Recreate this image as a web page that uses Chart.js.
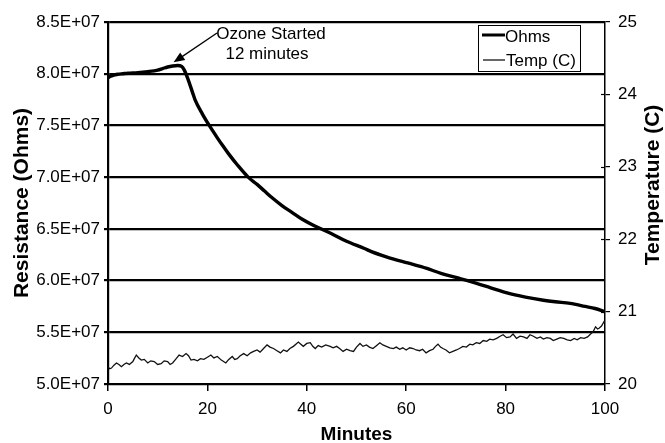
<!DOCTYPE html>
<html>
<head>
<meta charset="utf-8">
<script src="https://cdn.jsdelivr.net/npm/chart.js@4"></script>
<style>
  html, body { margin: 0; padding: 0; background: #fff; }
  canvas { display: block; }
</style>
</head>
<body>
<canvas id="c" width="665" height="443"></canvas>
<script>
// ---- Data ----
const ohmsMinutes = [0, 0.5, 1, 2, 3, 4, 6, 8, 10, 11, 12, 13, 14, 14.8, 15.3, 16, 17, 17.5, 19, 20.5, 22, 23, 24.2, 26, 28.2, 30, 31.5, 32.9, 35, 37, 39, 41.5, 44.9, 48, 51.6, 53, 56, 60.3, 64, 67, 70, 73, 77, 80.3, 84, 87.6, 90, 93, 96, 98, 100];
const ohmsValues = [7.96e7, 7.975e7, 7.985e7, 7.995e7, 8.0e7, 8.005e7, 8.01e7, 8.02e7, 8.035e7, 8.05e7, 8.065e7, 8.075e7, 8.08e7, 8.07e7, 8.04e7, 7.96e7, 7.82e7, 7.75e7, 7.61e7, 7.49e7, 7.38e7, 7.31e7, 7.23e7, 7.12e7, 7.0e7, 6.93e7, 6.865e7, 6.805e7, 6.725e7, 6.66e7, 6.595e7, 6.53e7, 6.455e7, 6.38e7, 6.31e7, 6.28e7, 6.23e7, 6.17e7, 6.12e7, 6.07e7, 6.03e7, 5.99e7, 5.93e7, 5.88e7, 5.84e7, 5.81e7, 5.795e7, 5.78e7, 5.75e7, 5.73e7, 5.70e7];

const tempMinutes = [0, 0.35, 0.7, 1.2, 1.7, 2.2, 2.7, 3.2, 3.7, 4.3, 5, 5.3, 5.7, 6.2, 6.7, 7.3, 8, 8.6, 9.3, 10, 10.7, 11.3, 12, 12.5, 13, 13.6, 14.3, 15, 15.7, 16.2, 16.7, 17.3, 18, 18.6, 19.3, 20, 20.7, 21.3, 22, 22.8, 23.7, 24.3, 25, 25.5, 26, 26.6, 27.3, 28, 28.7, 29.3, 30, 30.6, 31.3, 32, 32.6, 33.3, 34, 34.7, 35.3, 36, 36.6, 37.3, 37.8, 38.3, 38.8, 39.3, 40, 40.7, 41.2, 41.7, 42.3, 43, 43.8, 44.7, 45.3, 46, 46.6, 47.3, 48, 48.7, 49.4, 50, 50.7, 51.3, 52, 52.6, 53.3, 54, 54.7, 55.3, 56, 56.7, 57.4, 58, 58.7, 59.3, 60, 60.7, 61.4, 62, 62.7, 63.3, 64, 64.7, 65.4, 65.9, 66.4, 66.9, 67.4, 68, 68.7, 69.4, 70.1, 70.7, 71.4, 72.1, 72.8, 73.4, 74.1, 74.8, 75.5, 76.2, 76.8, 77.5, 78.2, 78.9, 79.5, 80.2, 80.9, 81.5, 82.2, 82.9, 83.6, 84.3, 84.9, 85.6, 86.3, 87, 87.6, 88.3, 89, 89.6, 90.3, 91, 91.7, 92.4, 93.1, 93.8, 94.4, 95.1, 95.8, 96.5, 97.1, 97.6, 98.1, 98.5, 98.8, 99.3, 99.8, 100];
const tempValues = [20.24, 20.21, 20.22, 20.26, 20.29, 20.27, 20.24, 20.27, 20.29, 20.27, 20.31, 20.35, 20.40, 20.36, 20.33, 20.34, 20.29, 20.32, 20.31, 20.27, 20.28, 20.32, 20.31, 20.27, 20.29, 20.34, 20.40, 20.38, 20.42, 20.39, 20.33, 20.34, 20.32, 20.35, 20.34, 20.37, 20.40, 20.36, 20.38, 20.33, 20.29, 20.34, 20.38, 20.34, 20.35, 20.39, 20.42, 20.39, 20.43, 20.45, 20.47, 20.44, 20.49, 20.54, 20.51, 20.49, 20.46, 20.43, 20.47, 20.45, 20.49, 20.52, 20.55, 20.58, 20.55, 20.52, 20.56, 20.57, 20.52, 20.49, 20.53, 20.51, 20.54, 20.52, 20.50, 20.52, 20.49, 20.45, 20.48, 20.46, 20.45, 20.51, 20.56, 20.52, 20.54, 20.51, 20.49, 20.53, 20.57, 20.54, 20.52, 20.50, 20.49, 20.51, 20.48, 20.50, 20.47, 20.50, 20.49, 20.47, 20.46, 20.48, 20.43, 20.46, 20.48, 20.52, 20.55, 20.51, 20.49, 20.47, 20.43, 20.45, 20.47, 20.49, 20.52, 20.51, 20.55, 20.54, 20.57, 20.56, 20.60, 20.59, 20.62, 20.61, 20.63, 20.66, 20.68, 20.64, 20.65, 20.69, 20.63, 20.66, 20.65, 20.63, 20.68, 20.66, 20.63, 20.65, 20.62, 20.64, 20.63, 20.60, 20.62, 20.64, 20.63, 20.61, 20.60, 20.63, 20.61, 20.64, 20.63, 20.65, 20.69, 20.72, 20.79, 20.76, 20.77, 20.80, 20.86, 20.84];

const seriesLabels = ['Ohms', 'Temp (C)'];
const annotationLines = ['Ozone Started', '12 minutes'];
const annotationTip = { x: 13.2, y: 8.11e7 };

const FONT = 'Arial, "Liberation Sans", sans-serif';

function fmtSci(v) {
  return (v / 1e7).toFixed(1) + 'E+07';
}

const overlay = {
  id: 'overlay',
  afterDraw(chart) {
    const ctx = chart.ctx;
    const xs = chart.scales.x, y1 = chart.scales.y1, y = chart.scales.y;
    ctx.save();
    // inward tick marks on right axis
    ctx.strokeStyle = '#000';
    ctx.lineWidth = 1.2;
    for (let t = 21; t <= 24; t++) {
      const py = Math.round(y1.getPixelForValue(t)) + 0.5;
      ctx.beginPath();
      ctx.moveTo(xs.right - 4, py);
      ctx.lineTo(xs.right, py);
      ctx.stroke();
    }
    // legend
    const lx = 478.5, ly = 25.5, lw = 102, lh = 46;
    ctx.fillStyle = '#fff';
    ctx.fillRect(lx, ly, lw, lh);
    ctx.lineWidth = 1;
    ctx.strokeRect(lx, ly, lw, lh);
    ctx.beginPath();
    ctx.lineWidth = 3;
    ctx.moveTo(482, 35); ctx.lineTo(505, 35);
    ctx.stroke();
    ctx.beginPath();
    ctx.lineWidth = 1.2;
    ctx.moveTo(483, 60); ctx.lineTo(505, 60);
    ctx.stroke();
    ctx.fillStyle = '#000';
    ctx.font = '17px ' + FONT;
    ctx.textAlign = 'left';
    ctx.textBaseline = 'middle';
    ctx.fillText(seriesLabels[0], 505, 37);
    ctx.fillText(seriesLabels[1], 506, 61);
    // annotation text
    ctx.textAlign = 'center';
    ctx.fillText(annotationLines[0], 271, 34);
    ctx.fillText(annotationLines[1], 267, 54);
    // arrow
    const tx = xs.getPixelForValue(annotationTip.x);
    const ty = y.getPixelForValue(annotationTip.y);
    const sx = 217, sy = 33;
    const ang = Math.atan2(ty - sy, tx - sx);
    ctx.beginPath();
    ctx.lineWidth = 1.3;
    ctx.moveTo(sx, sy);
    ctx.lineTo(tx - 8 * Math.cos(ang), ty - 8 * Math.sin(ang));
    ctx.stroke();
    ctx.beginPath();
    ctx.moveTo(tx, ty);
    ctx.lineTo(tx - 11 * Math.cos(ang) + 4.5 * Math.sin(ang), ty - 11 * Math.sin(ang) - 4.5 * Math.cos(ang));
    ctx.lineTo(tx - 11 * Math.cos(ang) - 4.5 * Math.sin(ang), ty - 11 * Math.sin(ang) + 4.5 * Math.cos(ang));
    ctx.closePath();
    ctx.fill();
    // right axis title (reads bottom-to-top)
    ctx.save();
    ctx.translate(653, 185);
    ctx.rotate(-Math.PI / 2);
    ctx.font = 'bold 21px ' + FONT;
    ctx.textAlign = 'center';
    ctx.textBaseline = 'middle';
    ctx.fillText('Temperature (C)', 0, 0);
    ctx.restore();
    ctx.restore();
  }
};

new Chart(document.getElementById('c').getContext('2d'), {
  type: 'line',
  data: {
    datasets: [
      {
        label: seriesLabels[0],
        data: ohmsMinutes.map((m, i) => ({ x: m, y: ohmsValues[i] })),
        yAxisID: 'y',
        borderColor: '#000',
        borderWidth: 3.4,
        pointRadius: 0,
        cubicInterpolationMode: 'monotone',
        fill: false
      },
      {
        label: seriesLabels[1],
        data: tempMinutes.map((m, i) => ({ x: m, y: tempValues[i] })),
        yAxisID: 'y1',
        borderColor: '#111',
        borderWidth: 1.3,
        pointRadius: 0,
        tension: 0,
        fill: false
      }
    ]
  },
  options: {
    responsive: false,
    animation: false,
    layout: { padding: { top: 22, left: 0, right: 0, bottom: 0 } },
    plugins: { legend: { display: false }, tooltip: { enabled: false } },
    scales: {
      x: {
        type: 'linear', min: 0, max: 100,
        ticks: { stepSize: 20, color: '#000', font: { family: FONT, size: 17 }, padding: 8, maxRotation: 0 },
        grid: { drawOnChartArea: false, drawTicks: true, tickLength: 7, color: '#000', lineWidth: 1.5 },
        border: { color: '#000', width: 2 },
        title: { display: true, text: 'Minutes', color: '#000', font: { family: FONT, size: 19, weight: 'bold' }, padding: { top: 0, bottom: -3 } },
        afterFit(s) { s.height = 59; }
      },
      y: {
        position: 'left', min: 5e7, max: 8.5e7,
        ticks: { stepSize: 5e6, color: '#000', font: { family: FONT, size: 17 }, padding: 4, callback: v => fmtSci(v) },
        grid: { color: '#000', lineWidth: 2.2, tickLength: 4 },
        border: { color: '#000', width: 2.2 },
        title: { display: true, text: 'Resistance (Ohms)', color: '#000', font: { family: FONT, size: 21, weight: 'bold' }, padding: { top: 10, bottom: 0 } },
        afterFit(s) { s.width = 108; }
      },
      y1: {
        position: 'right', min: 20, max: 25,
        ticks: { stepSize: 1, color: '#000', font: { family: FONT, size: 17 }, padding: 8 },
        grid: { drawOnChartArea: false, tickLength: 5, color: '#000', lineWidth: 1.2 },
        border: { color: '#000', width: 1.5 },
        afterFit(s) { s.width = 60; }
      }
    }
  },
  plugins: [overlay]
});
</script>
</body>
</html>
